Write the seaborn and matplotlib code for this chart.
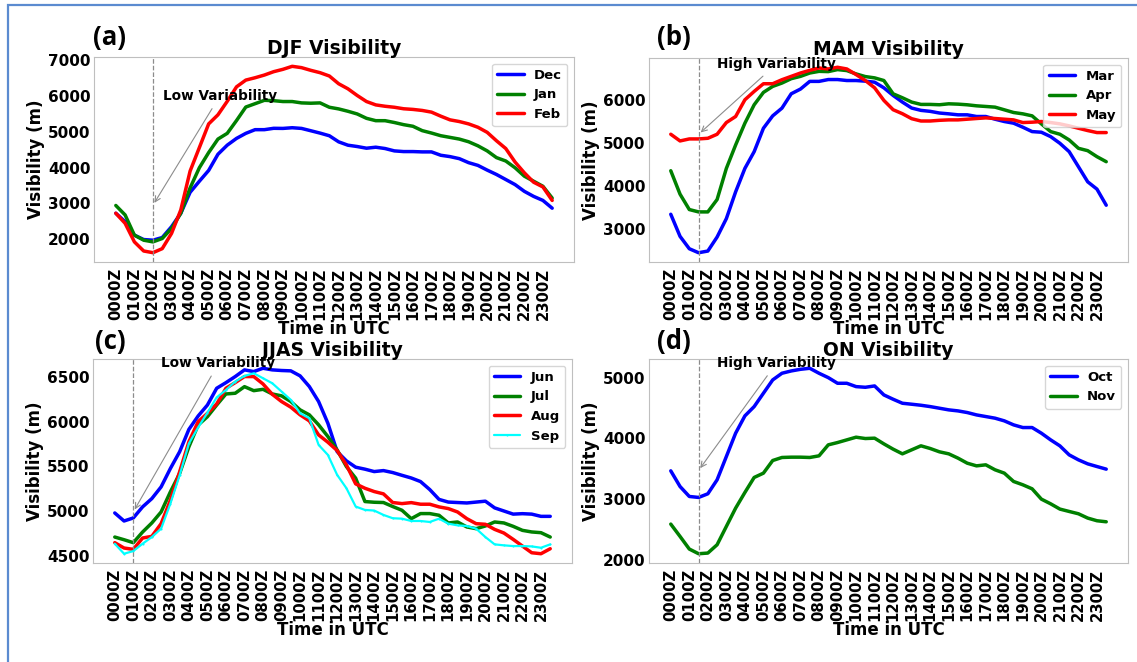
import numpy as np
import pandas as pd
import matplotlib
matplotlib.use("Agg")
import matplotlib.pyplot as plt
import seaborn as sns
from matplotlib.patches import Rectangle

# ---------------- data (half-hourly, 0000Z .. 2330Z) ----------------
hour_labels = ["0000Z", "0100Z", "0200Z", "0300Z", "0400Z", "0500Z", "0600Z", "0700Z",
               "0800Z", "0900Z", "1000Z", "1100Z", "1200Z", "1300Z", "1400Z", "1500Z",
               "1600Z", "1700Z", "1800Z", "1900Z", "2000Z", "2100Z", "2200Z", "2300Z"]

dec = [2725, 2490, 2113, 1990, 1972, 2047, 2349, 2725, 3309, 3620, 3921, 4373, 4627, 4816,
       4957, 5060, 5060, 5098, 5095, 5114, 5095, 5030, 4964, 4890, 4720, 4626, 4589, 4542,
       4570, 4533, 4467, 4448, 4448, 4439, 4439, 4345, 4307, 4250, 4138, 4062, 3930, 3808,
       3667, 3526, 3337, 3196, 3083, 2866]
jan = [2942, 2678, 2113, 1972, 1925, 2019, 2301, 2725, 3431, 3997, 4420, 4797, 4957, 5315,
       5692, 5786, 5880, 5870, 5846, 5846, 5808, 5799, 5808, 5686, 5640, 5574, 5499, 5377,
       5311, 5311, 5260, 5200, 5155, 5033, 4966, 4891, 4844, 4797, 4722, 4609, 4467, 4279,
       4185, 3996, 3761, 3620, 3479, 3149]
feb = [2725, 2443, 1925, 1670, 1623, 1736, 2160, 2819, 3902, 4561, 5221, 5475, 5852, 6257,
       6445, 6511, 6586, 6680, 6746, 6830, 6793, 6718, 6652, 6559, 6343, 6202, 6015, 5846,
       5752, 5714, 5686, 5644, 5626, 5597, 5550, 5437, 5334, 5287, 5221, 5127, 4985, 4750,
       4533, 4156, 3855, 3592, 3460, 3083]

mar = [3346, 2831, 2542, 2449, 2488, 2815, 3245, 3869, 4416, 4806, 5352, 5641, 5821, 6156,
       6266, 6445, 6445, 6488, 6488, 6465, 6465, 6450, 6426, 6295, 6117, 5962, 5823, 5769,
       5746, 5707, 5688, 5665, 5665, 5626, 5626, 5563, 5509, 5470, 5376, 5274, 5259, 5157,
       5001, 4806, 4455, 4103, 3932, 3557]
apr = [4361, 3815, 3456, 3401, 3401, 3690, 4416, 4962, 5470, 5899, 6188, 6328, 6406, 6508,
       6562, 6640, 6679, 6673, 6720, 6697, 6619, 6557, 6527, 6465, 6155, 6063, 5962, 5908,
       5908, 5900, 5922, 5914, 5899, 5875, 5860, 5844, 5782, 5719, 5688, 5641, 5454, 5274,
       5212, 5079, 4884, 4829, 4689, 4572]
may = [5212, 5056, 5103, 5103, 5118, 5212, 5485, 5626, 6016, 6211, 6390, 6390, 6484, 6562,
       6640, 6703, 6757, 6735, 6774, 6735, 6604, 6465, 6295, 6001, 5784, 5691, 5575, 5521,
       5521, 5537, 5547, 5547, 5563, 5579, 5594, 5579, 5563, 5547, 5485, 5493, 5509, 5485,
       5454, 5407, 5352, 5298, 5251, 5251]

jun = [4978, 4888, 4922, 5046, 5139, 5270, 5476, 5664, 5915, 6065, 6188, 6376, 6439, 6507,
       6582, 6563, 6600, 6582, 6575, 6571, 6515, 6395, 6227, 5984, 5666, 5562, 5491, 5469,
       5442, 5453, 5431, 5400, 5370, 5330, 5240, 5130, 5100, 5095, 5090, 5100, 5110, 5035,
       5000, 4965, 4970, 4965, 4940, 4940]
jul = [4708, 4678, 4645, 4764, 4866, 4989, 5214, 5420, 5720, 5964, 6057, 6188, 6312, 6320,
       6394, 6349, 6364, 6312, 6291, 6227, 6134, 6078, 5966, 5835, 5685, 5498, 5368, 5106,
       5098, 5095, 5050, 5008, 4914, 4971, 4971, 4952, 4866, 4877, 4821, 4802, 4832, 4877,
       4866, 4828, 4783, 4765, 4757, 4708]
aug = [4645, 4585, 4570, 4697, 4716, 4858, 5120, 5439, 5776, 6001, 6095, 6200, 6376, 6439,
       6507, 6507, 6424, 6308, 6227, 6164, 6078, 6010, 5853, 5771, 5678, 5517, 5304, 5255,
       5218, 5192, 5095, 5083, 5094, 5076, 5076, 5046, 5027, 4989, 4914, 4858, 4851, 4794,
       4753, 4682, 4607, 4532, 4521, 4577]
sep = [4633, 4521, 4551, 4633, 4708, 4802, 5083, 5401, 5757, 5937, 6102, 6274, 6357, 6451,
       6514, 6544, 6488, 6432, 6339, 6246, 6096, 6040, 5741, 5629, 5405, 5256, 5050, 5012,
       5005, 4956, 4919, 4914, 4888, 4888, 4877, 4914, 4858, 4839, 4832, 4802, 4708, 4626,
       4615, 4607, 4607, 4603, 4588, 4626]

oct_ = [3465, 3207, 3043, 3027, 3087, 3317, 3701, 4085, 4370, 4523, 4743, 4962, 5072, 5110,
        5137, 5154, 5072, 5000, 4907, 4907, 4852, 4841, 4863, 4715, 4644, 4578, 4562, 4545,
        4523, 4496, 4469, 4452, 4425, 4386, 4359, 4332, 4288, 4222, 4178, 4178, 4085, 3975,
        3876, 3728, 3646, 3580, 3536, 3493]
nov = [2588, 2385, 2177, 2100, 2111, 2248, 2550, 2851, 3109, 3356, 3427, 3635, 3685, 3690,
       3690, 3685, 3712, 3893, 3931, 3975, 4019, 3997, 4003, 3909, 3822, 3745, 3811, 3877,
       3833, 3778, 3745, 3674, 3591, 3547, 3564, 3482, 3427, 3290, 3235, 3169, 2999, 2922,
       2835, 2796, 2758, 2687, 2643, 2626]

# ---------------- style ----------------
sns.set_style("white", {"axes.edgecolor": "0.75", "axes.linewidth": 1.0})
plt.rcParams["font.family"] = ["DejaVu Sans"]
plt.rcParams["font.weight"] = "bold"
plt.rcParams["axes.labelweight"] = "bold"
plt.rcParams["axes.titleweight"] = "bold"
for key in ["text.color", "axes.labelcolor", "xtick.color", "ytick.color"]:
    plt.rcParams[key] = "black"

fig = plt.figure(figsize=(11.37, 6.62), dpi=100)
fig.patch.set_facecolor("white")

W, H = 1137.0, 662.0
def box(l, t, r, b):
    return [l / W, 1 - b / H, (r - l) / W, (b - t) / H]

panels = [
    dict(pos=box(94, 57, 574, 262), tag="(a)", title="DJF Visibility",
         series=[("Dec", dec, "blue"), ("Jan", jan, "green"), ("Feb", feb, "red")],
         vline=4, note="Low Variability", xy=(4, 2950), xytext=(11.2, 6000), tagxy=(93, 37)),
    dict(pos=box(649, 58, 1128, 262), tag="(b)", title="MAM Visibility",
         series=[("Mar", mar, "blue"), ("Apr", apr, "green"), ("May", may, "red")],
         vline=3, note="High Variability", xy=(3, 5210), xytext=(11.4, 6850), tagxy=(657, 37)),
    dict(pos=box(93, 359, 572, 563), tag="(c)", title="JJAS Visibility",
         series=[("Jun", jun, "blue"), ("Jul", jul, "green"), ("Aug", aug, "red"),
                 ("Sep", sep, "cyan")],
         vline=2, note="Low Variability", xy=(2, 4990), xytext=(11.2, 6655), tagxy=(95, 341)),
    dict(pos=box(649, 359, 1128, 563), tag="(d)", title="ON Visibility",
         series=[("Oct", oct_, "blue"), ("Nov", nov, "green")],
         vline=3, note="High Variability", xy=(3, 3472), xytext=(11.4, 5237), tagxy=(657, 341)),
]

x = np.arange(len(dec))

for p in panels:
    ax = fig.add_axes(p["pos"])
    for name, vals, col in p["series"]:
        if col == "cyan":
            sns.lineplot(x=x, y=vals, ax=ax, color=col, lw=1.6, label=name,
                         marker=".", markersize=3, markeredgewidth=0)
        else:
            sns.lineplot(x=x, y=vals, ax=ax, color=col, lw=2.5, label=name)
    ax.axvline(p["vline"], color="0.55", lw=0.9, ls="--")
    ax.annotate(p["note"], xy=p["xy"], xytext=p["xytext"], ha="center", va="center",
                fontsize=9.8, fontweight="bold", color="black",
                arrowprops=dict(arrowstyle="->", color="0.55", lw=0.8))
    ax.set_xticks(x[::2])
    ax.set_xticklabels(hour_labels, rotation=90, fontsize=10.7, fontweight="bold")
    ax.tick_params(axis="x", length=0, pad=4, colors="black")
    ax.tick_params(axis="y", length=0, pad=2.5, labelsize=11, colors="black")
    for lab in ax.get_yticklabels():
        lab.set_fontweight("bold")
    ax.set_xlabel("Time in UTC", fontsize=12, fontweight="bold", labelpad=0, color="black")
    ax.set_ylabel("Visibility (m)", fontsize=12, fontweight="bold", labelpad=2, color="black")
    ax.set_title(p["title"], fontsize=13.5, fontweight="bold", pad=2, color="black")
    leg = ax.legend(loc="upper right", prop={"weight": "bold", "size": 9.5})
    for t in leg.get_texts():
        t.set_color("black")
    fig.text(p["tagxy"][0] / W, 1 - p["tagxy"][1] / H, p["tag"], fontsize=18.5,
             fontweight="bold", family=["Open Sans", "DejaVu Sans"], ha="left", va="center",
             color="black")

# light-blue frame (top and left edges visible in reference)
fig.add_artist(Rectangle((8 / W, -0.05), 1.2, 1 - 5 / H + 0.05, transform=fig.transFigure,
                         fill=False, edgecolor="#5b8bd0", lw=1.6, clip_on=False))

fig.savefig("out.png", dpi=100, facecolor="white")
